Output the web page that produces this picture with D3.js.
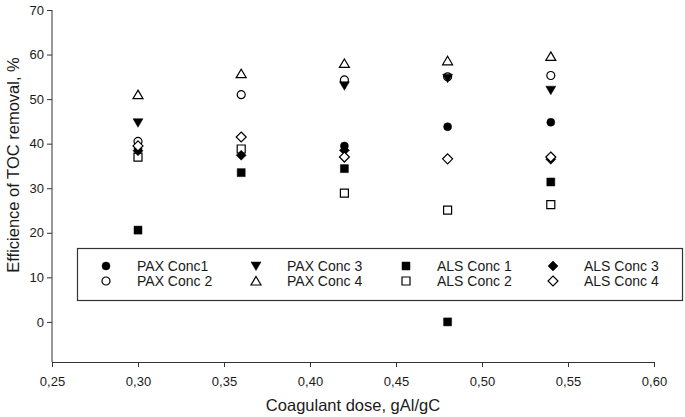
<!DOCTYPE html>
<html><head><meta charset="utf-8">
<script src="https://cdn.jsdelivr.net/npm/d3@7"></script>
<style>body{margin:0;background:#fff}svg{display:block}text{font-family:"Liberation Sans",Arial,sans-serif;fill:#1a1a1a}</style>
</head><body>
<script>
const doses = [0.30, 0.36, 0.42, 0.48, 0.54];
const paxConc1 = [38.8, null, 39.5, 43.8, 44.8];
const paxConc2 = [40.5, 51.0, 54.3, 55.0, 55.3];
const paxConc3 = [44.7, null, 53.0, 54.7, 52.0];
const paxConc4 = [51.0, 55.7, 58.0, 58.6, 59.6];
const alsConc1 = [20.6, 33.5, 34.4, 0, 31.4];
const alsConc2 = [37.0, 38.8, 28.9, 25.1, 26.3];
const alsConc3 = [38.4, 37.4, 38.5, null, 36.5];
const alsConc4 = [39.5, 41.5, 37.0, 36.6, 37.0];
const seriesNames = ["PAX Conc1","PAX Conc 2","PAX Conc 3","PAX Conc 4","ALS Conc 1","ALS Conc 2","ALS Conc 3","ALS Conc 4"];
const xTicks = [0.25,0.30,0.35,0.40,0.45,0.50,0.55,0.60];
const yTicks = [0,10,20,30,40,50,60,70];

const series = [
  {name:seriesNames[0], values:paxConc1, shape:"circle", filled:true},
  {name:seriesNames[1], values:paxConc2, shape:"circle", filled:false},
  {name:seriesNames[2], values:paxConc3, shape:"tdown", filled:true},
  {name:seriesNames[3], values:paxConc4, shape:"tup", filled:false},
  {name:seriesNames[4], values:alsConc1, shape:"square", filled:true},
  {name:seriesNames[5], values:alsConc2, shape:"square", filled:false},
  {name:seriesNames[6], values:alsConc3, shape:"diamond", filled:true},
  {name:seriesNames[7], values:alsConc4, shape:"diamond", filled:false}
];

const W=685,H=417, m={l:52,r:31,t:10,b:55};
const svg=d3.select("body").append("svg").attr("width",W).attr("height",H);
const x=d3.scaleLinear().domain([0.25,0.60]).range([m.l,W-m.r]);
const y=d3.scaleLinear().domain([-9,70]).range([H-m.b,m.t]);

function shapePath(s){
  const r=4;
  switch(s){
    case "circle": return `M${r},0A${r},${r} 0 1,1 ${-r},0A${r},${r} 0 1,1 ${r},0Z`;
    case "square": return `M-4,-4H4V4H-4Z`;
    case "tup": return `M0,-4.5L5,4L-5,4Z`;
    case "tdown": return `M0,4.5L5,-4L-5,-4Z`;
    case "diamond": return `M0,-5L5,0L0,5L-5,0Z`;
  }
}

// axes
const xAxis=d3.axisBottom(x).tickValues(xTicks).tickSize(5).tickSizeOuter(0).tickFormat(d=>d3.format(".2f")(d).replace(".",","));
const gx=svg.append("g").attr("transform",`translate(0,${H-m.b})`).call(xAxis);
const yAxis=d3.axisLeft(y).tickValues(yTicks).tickSize(5).tickSizeOuter(0).tickFormat(d3.format("d"));
const gy=svg.append("g").attr("transform",`translate(${m.l},0)`).call(yAxis);
[gx,gy].forEach(g=>{
  g.select(".domain").attr("stroke","#333");
  g.selectAll(".tick line").attr("stroke","#333");
  g.selectAll(".tick text").style("font-size","13px").attr("fill","#1a1a1a");
});
gy.select(".domain").attr("d",`M0,${y(-9)}V${y(70)}`);
gx.selectAll(".tick text").attr("dy","1.2em");

svg.append("text").attr("x",(x(0.25)+x(0.60))/2).attr("y",H-6).attr("text-anchor","middle").style("font-size","16.5px").text("Coagulant dose, gAl/gC");
svg.append("text").attr("transform",`translate(19,165) rotate(-90)`).attr("text-anchor","middle").style("font-size","16.5px").text("Efficience of TOC removal, %");

// points
series.forEach(s=>{
  svg.append("g").selectAll("path").data(doses.map((d,i)=>({d,v:s.values[i]})).filter(p=>p.v!==null))
    .join("path")
    .attr("d",shapePath(s.shape))
    .attr("transform",p=>`translate(${x(p.d)},${y(p.v)})`)
    .attr("fill",s.filled?"#000":"#fff")
    .attr("stroke","#000").attr("stroke-width",s.filled?0.5:1.2);
});

// legend
const lg=svg.append("g");
lg.append("rect").attr("x",77.5).attr("y",248.5).attr("width",605).attr("height",52).attr("fill","#fff").attr("stroke","#333").attr("stroke-width",1.2);
const colX=[106,256,406,553];
series.forEach((s,i)=>{
  const col=Math.floor(i/2), row=i%2;
  const cx=colX[col], cy=266+row*15;
  lg.append("path").attr("d",shapePath(s.shape)).attr("transform",`translate(${cx},${cy})`)
    .attr("fill",s.filled?"#000":"#fff").attr("stroke","#000").attr("stroke-width",s.filled?0.5:1.2);
  lg.append("text").attr("x",cx+31).attr("y",cy).attr("dy","0.35em").style("font-size","14px").text(s.name);
});
</script>
</body></html>
